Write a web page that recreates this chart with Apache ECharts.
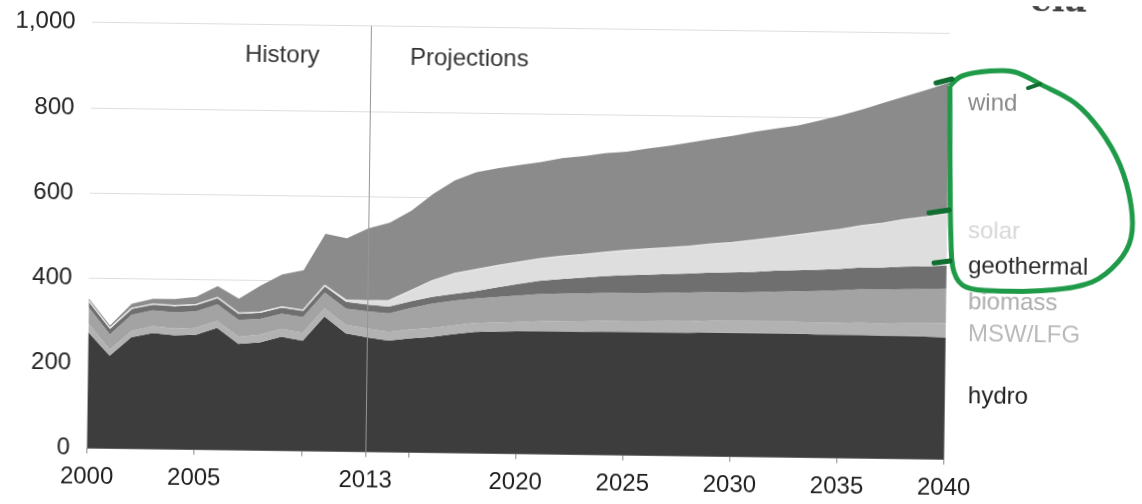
<!DOCTYPE html>
<html>
<head>
<meta charset="utf-8">
<script src="https://cdn.jsdelivr.net/npm/echarts@6/dist/echarts.min.js"></script>
<style>
html,body{margin:0;padding:0;background:#fff;overflow:hidden;}
#chart{width:1142px;height:504px;transform:rotate(0.75deg);transform-origin:571px 252px;}
</style>
</head>
<body>
<div id="chart"></div>
<script>
const years = ['2000','2001','2002','2003','2004','2005','2006','2007','2008','2009','2010','2011','2012','2013','2014','2015','2016','2017','2018','2019','2020','2021','2022','2023','2024','2025','2026','2027','2028','2029','2030','2031','2032','2033','2034','2035','2036','2037','2038','2039','2040'];
const labelYears = ['2000','2005','2013','2020','2025','2030','2035','2040'];
const tickYears = ['2000','2005','2010','2013','2015','2020','2025','2030','2035','2040'];
const yTicks = [0, 200, 400, 600, 800, 1000];

const hydro = [272,218,262,273,268,270,287,250,254,268,259,317,278,269,262,268,272,279,285,287,288,289,289,289,290,290,290,290,290,291,291,291,291,291,290,290,290,289,289,288,287];
const mswlfg = [21,15,15,16,16,16,16,17,18,18,19,19,20,21,21,21,21,21,21,21,22,23,24,25,25,26,26,27,27,28,28,28,28,28,28,28,29,29,30,31,33];
const biomass = [38,35,38,37,38,39,39,39,37,36,37,37,38,40,43,50,57,58,58,60,62,64,65,65,66,66,66,66,67,67,67,68,70,72,74,76,78,79,80,81,81];
const geothermal = [14,14,14,14,15,15,15,15,15,15,15,15,16,16,16,16,16,16,17,22,27,31,34,37,39,41,43,44,45,46,47,48,49,49,50,50,51,52,53,53,54];
const solar = [1,1,1,1,1,1,1,1,1,1,1,2,4,9,14,25,38,47,50,51,51,52,53,54,56,58,60,62,64,67,70,74,78,83,88,93,98,104,110,116,122];
const wind = [6,6,11,12,15,18,27,34,62,76,94,121,145,170,183,188,204,219,229,229,228,227,231,231,233,232,236,239,244,247,251,255,256,257,262,268,274,283,290,299,308];

const seriesNames = ['hydro','MSW/LFG','biomass','geothermal','solar','wind'];
const seriesData = [hydro, mswlfg, biomass, geothermal, solar, wind];
const areaColors = ['#3d3d3d','#b2b2b2','#a3a3a3','#6f6f6f','#dedede','#8b8b8b'];
const labelColors = ['#1e1e1e','#b9b9b9','#acacac','#2a2a2a','#d6d6d6','#8a8a8a'];
const labelY = [397,335,303,267,232,104];
const periodLabels = ['History','Projections'];
const splitYear = '2013';

const FONT = 'Liberation Sans';
// the scanned page is slightly rotated; graphic positions are given in screen pixels
const ANG = 0.75 * Math.PI / 180, SN = Math.sin(ANG), CS = Math.cos(ANG), CX = 571, CY = 252;
function place(x, y) {
  const dx = x - CX, dy = y - CY;
  return [CX + CS * dx + SN * dy, CY - SN * dx + CS * dy];
}

const chart = echarts.init(document.getElementById('chart'), null, {renderer:'canvas'});

const series = seriesData.map((d, i) => {
  const s = {
    name: seriesNames[i],
    type: 'line',
    stack: 'total',
    data: d,
    symbol: 'none',
    silent: true,
    lineStyle: {width: 0},
    areaStyle: {color: areaColors[i], opacity: 1},
    itemStyle: {color: areaColors[i]},
    z: 2
  };
  if (seriesNames[i] === 'solar') {
    s.lineStyle = {width: 1.5, color: '#e6e6e6'};
  }
  if (i === seriesData.length - 1) {
    s.markLine = {
      silent: true,
      symbol: 'none',
      label: {show: false},
      lineStyle: {color: '#959595', width: 1, type: 'solid'},
      data: [{xAxis: splitYear}],
      z: 5
    };
  }
  return s;
});

function textEl(str, sx, sy, color) {
  const p = place(sx, sy);
  return {
    type: 'text', x: p[0], y: p[1], z: 20,
    style: {text: str, fill: color, font: '24px "' + FONT + '"',
            textAlign: 'left', textVerticalAlign: 'middle', align: 'left', verticalAlign: 'middle'}
  };
}

const graphics = [];
seriesNames.forEach((n, i) => graphics.push(textEl(n, 968, labelY[i], labelColors[i])));
graphics.push(textEl(periodLabels[0], 245, 55, '#333'));
graphics.push(textEl(periodLabels[1], 410, 58, '#333'));
// partial logo at top right of the scan
(function(){
  const p = place(1030, 19);
  graphics.push({type:'text', x:p[0], y:p[1], style:{text:'eia', fill:'#444', font:'bold 34px "DejaVu Serif"', textAlign:'left', textVerticalAlign:'bottom', align:'left', verticalAlign:'bottom'}});
})();
// hand-drawn green annotation
const loopPts = [[950,86],[962,76],[990,71],[1015,72],[1040,84],[1075,103],[1100,130],[1120,165],[1131,205],[1131,238],[1118,262],[1092,282],[1050,290],[1000,291],[966,287],[954,272],[951,240],[950,160],[950,86]].map(q => place(q[0], q[1]));
graphics.push({type:'polyline', shape:{smooth:0.35, points: loopPts}, style:{stroke:'#1f9a48', lineWidth:5, fill:null}, z:10});
[[936,83,952,79,5],[1028,88,1040,84,4],[929,213,949,210,5],[934,263,950,261,5]].forEach(t => {
  const a = place(t[0], t[1]), b = place(t[2], t[3]);
  graphics.push({type:'line', shape:{x1:a[0],y1:a[1],x2:b[0],y2:b[1]}, style:{stroke:'#0f6e30', lineWidth:t[4], lineCap:'round'}, z:11});
});

chart.setOption({
  animation: false,
  backgroundColor: '#fff',
  grid: {left: 89.6, right: 195.3, top: 28.7, bottom: 49.3, containLabel: false},
  xAxis: {
    type: 'category',
    data: years,
    boundaryGap: false,
    axisLine: {show: true, lineStyle: {color: '#9a9a9a', width: 1}},
    axisTick: {show: true, length: 5, lineStyle: {color: '#888'}, interval: (idx, val) => tickYears.indexOf(val) >= 0},
    axisLabel: {
      interval: (idx, val) => labelYears.indexOf(val) >= 0,
      fontFamily: FONT, fontSize: 24, color: '#1e1e1e', margin: 17
    },
    splitLine: {show: false}
  },
  yAxis: {
    type: 'value',
    min: yTicks[0], max: yTicks[yTicks.length - 1], interval: 200,
    axisLine: {show: false},
    axisTick: {show: false},
    axisLabel: {
      fontFamily: FONT, fontSize: 24, color: '#222', margin: 17,
      formatter: v => v.toLocaleString('en-US')
    },
    splitLine: {show: true, lineStyle: {color: '#bdbdbd', type: 'dotted', width: 1}}
  },
  series: series,
  graphic: graphics
});
</script>
</body>
</html>
